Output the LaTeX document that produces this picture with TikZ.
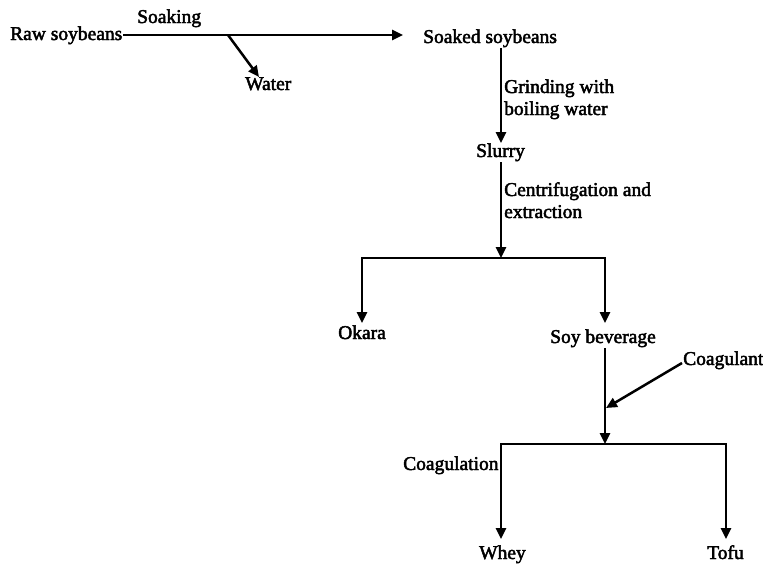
\documentclass[tikz,border=0pt]{standalone}
\usepackage{fontspec}
\setmainfont{Liberation Serif}[BoldFont=Liberation Serif, BoldFeatures={FakeBold=2.4}]
\usetikzlibrary{arrows.meta}
\begin{document}
\begin{tikzpicture}[x=1pt,y=-1pt,
  lbl/.style={font=\fontsize{19.5}{22}\selectfont\bfseries, inner sep=0pt, anchor=base west, align=left},
  flow/.style={line width=2.5pt, -{Triangle[length=11pt,width=10pt]}},
  seg/.style={line width=2.5pt}]
\useasboundingbox (0,0) rectangle (763,563);
% texts
\node[lbl] (raw) at (10,40) {Raw soybeans};
\node[lbl] (soaking) at (137,23) {Soaking};
\node[lbl] (water) at (245,90) {Water};
\node[lbl] (soaked) at (423,43) {Soaked soybeans};
\node[lbl] (grind1) at (504,93) {Grinding with};
\node[lbl] (grind2) at (504,115) {boiling water};
\node[lbl] (slurry) at (476,157) {Slurry};
\node[lbl] (cent1) at (504,196) {Centrifugation and};
\node[lbl] (cent2) at (504,218) {extraction};
\node[lbl] (okara) at (338,339) {Okara};
\node[lbl] (soy) at (550,343) {Soy beverage};
\node[lbl] (coagulant) at (683,365) {Coagulant};
\node[lbl] (coagulation) at (403,470) {Coagulation};
\node[lbl] (whey) at (479,559) {Whey};
\node[lbl] (tofu) at (707,559) {Tofu};
% coordinates
\coordinate (rawend) at (123,35);
\coordinate (soakedtip) at (403,35);
\coordinate (wbranch) at (228,35);
\coordinate (wtip) at (259,77);
\coordinate (s1) at (501,48);
\coordinate (s2) at (501,143);
\coordinate (s3) at (501,162);
\coordinate (j1) at (501,258);
\coordinate (jl) at (362,258);
\coordinate (jr) at (605,258);
\coordinate (okaratip) at (362,323);
\coordinate (soytip) at (605,323);
\coordinate (b1) at (605,348);
\coordinate (j2) at (605,444);
\coordinate (ctip) at (606,408);
\coordinate (cstart) at (682,363);
\coordinate (jw) at (501,444);
\coordinate (jt) at (726,444);
\coordinate (wheytip) at (501,539);
\coordinate (tofutip) at (726,539);
% connectors
\draw[flow] (rawend) -- (soakedtip);
\draw[flow] (wbranch) -- (wtip);
\draw[flow] (s1) -- (s2);
\draw[flow] (s3) -- (j1);
\draw[seg, line cap=rect] (jl) -- (jr);
\draw[flow] (jl) -- (okaratip);
\draw[flow] (jr) -- (soytip);
\draw[flow] (b1) -- (j2);
\draw[flow] (cstart) -- (ctip);
\draw[seg, line cap=rect] (jw) -- (jt);
\draw[flow] (jw) -- (wheytip);
\draw[flow] (jt) -- (tofutip);
\end{tikzpicture}
\end{document}
